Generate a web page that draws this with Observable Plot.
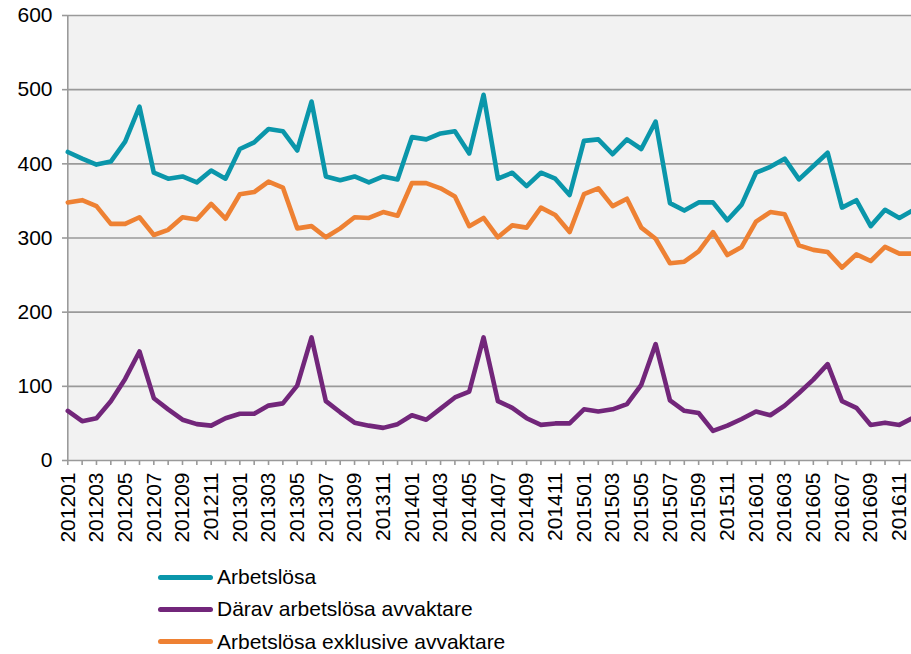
<!DOCTYPE html>
<html><head><meta charset="utf-8">
<script src="https://cdn.jsdelivr.net/npm/d3@7"></script>
<script src="https://cdn.jsdelivr.net/npm/@observablehq/plot@0.6"></script>
<style>
html,body{margin:0;padding:0;background:#fff;overflow:hidden;font-family:"Liberation Sans",Arial,sans-serif;}
#legend{padding-left:158px;padding-top:5px;}
.row{display:flex;align-items:center;height:32.3px;font-size:21px;color:#000;}
.sw{width:55px;height:5px;border-radius:3px;margin-right:4px;}
</style></head><body><div id="chart"></div><div id="legend"></div>
<script>
const months = ["201201","201202","201203","201204","201205","201206","201207","201208","201209","201210","201211","201212",
"201301","201302","201303","201304","201305","201306","201307","201308","201309","201310","201311","201312",
"201401","201402","201403","201404","201405","201406","201407","201408","201409","201410","201411","201412",
"201501","201502","201503","201504","201505","201506","201507","201508","201509","201510","201511","201512",
"201601","201602","201603","201604","201605","201606","201607","201608","201609","201610","201611","201612"];
const yTicks = [0, 100, 200, 300, 400, 500, 600];
const seriesNames = ["Arbetslösa", "Därav arbetslösa avvaktare", "Arbetslösa exklusive avvaktare"];
const colors = ["#0a96aa", "#72267a", "#ee8133"];

const arbetslosa = [416,407,399,403,430,477,388,380,383,375,
391,380,420,429,447,444,418,484,383,378,
383,375,383,379,436,433,441,444,414,493,
380,388,370,388,380,358,431,433,413,433,
420,457,347,337,348,348,324,345,388,396,
407,379,397,415,341,351,316,338,327,338];
const avvaktare = [67,53,57,80,110,147,84,69,55,49,
47,57,63,63,74,77,101,166,80,65,
51,47,44,49,61,55,70,85,93,166,
80,71,57,48,50,50,69,66,69,76,
102,157,81,67,64,40,47,56,66,61,
74,91,109,130,80,71,48,51,48,58];
const exklusive = [348,351,343,319,319,328,304,311,328,325,
346,326,359,362,376,368,313,316,301,313,
328,327,335,330,374,374,367,356,316,327,
301,317,314,341,331,308,359,367,343,353,
314,299,266,268,282,308,277,288,322,335,
332,290,284,281,260,278,269,288,279,279];

const seriesValues = [arbetslosa, avvaktare, exklusive];
const data = seriesNames.flatMap((s, k) => months.map((m, i) => ({idx: i, month: m, value: seriesValues[k][i], series: s})));
const monthIdx = months.map((m, i) => i);
const labelIdx = monthIdx.filter(i => i % 2 === 0);

const plot = Plot.plot({
  width: 911, height: 556,
  marginLeft: 67, marginRight: 0, marginTop: 15, marginBottom: 96,
  style: {fontFamily: "Liberation Sans, Arial, sans-serif", fontSize: "21px", background: "white", color: "#000"},
  x: {type: "linear", domain: [0, months.length - 1], range: [67.3, 913.2], label: null},
  y: {domain: [0, 600], label: null},
  color: {domain: seriesNames, range: colors},
  marks: [
    Plot.frame({fill: "#f2f2f2", stroke: null}),
    Plot.ruleY(yTicks, {stroke: "#9a9a9a", strokeWidth: 1.6}),
    Plot.axisY(yTicks, {tickSize: 5, tickPadding: 10, stroke: "#9a9a9a", strokeWidth: 1.6, label: null, fill: "#000"}),
    Plot.ruleX([0], {stroke: "#9a9a9a", strokeWidth: 1.6}),
    Plot.axisX(monthIdx, {tickSize: 5, stroke: "#9a9a9a", strokeWidth: 1.6, tickFormat: () => "", label: null}),
    Plot.axisX(labelIdx, {tickSize: 0, tickPadding: 12, tickRotate: -90, tickFormat: i => months[i], label: null, fill: "#000"}),
    Plot.line(data, {x: "idx", y: "value", stroke: "series", strokeWidth: 4.6, strokeLinejoin: "round", strokeLinecap: "round"})
  ]
});
document.getElementById("chart").appendChild(plot);

const legend = document.getElementById("legend");
seriesNames.forEach((s, k) => {
  const row = document.createElement("div");
  row.className = "row";
  const sw = document.createElement("div");
  sw.className = "sw";
  sw.style.background = colors[k];
  const t = document.createElement("span");
  t.textContent = s;
  row.appendChild(sw); row.appendChild(t);
  legend.appendChild(row);
});
</script>
</body></html>
